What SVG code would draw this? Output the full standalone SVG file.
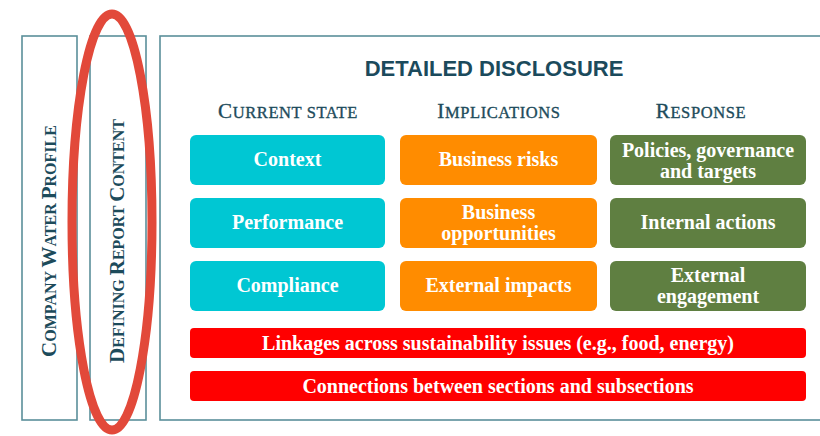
<svg xmlns="http://www.w3.org/2000/svg" width="820" height="436" viewBox="0 0 820 436">
<style>
.frame{fill:#ffffff;stroke:#5b8f9a;stroke-width:1.6}
.sc{font-family:"Liberation Serif",serif;fill:#1d4b5b;font-weight:bold}
.hd{font-family:"Liberation Serif",serif;fill:#1d4b5b;stroke:#1d4b5b;stroke-width:0.35;letter-spacing:0.6px}
.title{font-family:"Liberation Sans",Arial,sans-serif;font-weight:bold;font-size:22px;fill:#1b4a5c}
.bt{font-family:"Liberation Serif",serif;font-weight:bold;font-size:20px;fill:#ffffff;text-anchor:middle}
.cyan{fill:#00c7d3}
.orange{fill:#ff8c00}
.green{fill:#5f7f41}
.red{fill:#ff0000}
</style>
<rect x="0" y="0" width="820" height="436" fill="#ffffff"/>
<g id="company-water-profile">
<rect class="frame" x="22" y="36" width="55" height="384"/>
<text class="sc" transform="translate(56,241) rotate(-90)" text-anchor="middle"><tspan font-size="21">C</tspan><tspan font-size="16">OMPANY </tspan><tspan font-size="21">W</tspan><tspan font-size="16">ATER </tspan><tspan font-size="21">P</tspan><tspan font-size="16">ROFILE</tspan></text>
</g>
<g id="defining-report-content">
<rect class="frame" x="90" y="36" width="56" height="384"/>
<text class="sc" transform="translate(124,241) rotate(-90)" text-anchor="middle"><tspan font-size="21">D</tspan><tspan font-size="16">EFINING </tspan><tspan font-size="21">R</tspan><tspan font-size="16">EPORT </tspan><tspan font-size="21">C</tspan><tspan font-size="16">ONTENT</tspan></text>
</g>
<g id="detailed-disclosure">
<rect class="frame" x="160" y="36" width="680" height="384"/>
<text class="title" x="494" y="76" text-anchor="middle">DETAILED DISCLOSURE</text>
<text class="hd" x="288" y="118" text-anchor="middle"><tspan font-size="21">C</tspan><tspan font-size="16.5">URRENT STATE</tspan></text>
<text class="hd" x="499" y="118" text-anchor="middle"><tspan font-size="21">I</tspan><tspan font-size="16.5">MPLICATIONS</tspan></text>
<text class="hd" x="701" y="118" text-anchor="middle"><tspan font-size="21">R</tspan><tspan font-size="16.5">ESPONSE</tspan></text>
</g>
<g id="context"><rect class="cyan" x="190" y="135" width="195" height="50" rx="6"/><text class="bt" x="287.5" y="166">Context</text></g>
<g id="performance"><rect class="cyan" x="190" y="198" width="195" height="50" rx="6"/><text class="bt" x="287.5" y="229">Performance</text></g>
<g id="compliance"><rect class="cyan" x="190" y="261" width="195" height="50" rx="6"/><text class="bt" x="287.5" y="292">Compliance</text></g>
<g id="business-risks"><rect class="orange" x="400" y="135" width="197" height="50" rx="6"/><text class="bt" x="498.5" y="166">Business risks</text></g>
<g id="business-opportunities"><rect class="orange" x="400" y="198" width="197" height="50" rx="6"/><text class="bt" x="498.5" y="219">Business</text><text class="bt" x="498.5" y="240">opportunities</text></g>
<g id="external-impacts"><rect class="orange" x="400" y="261" width="197" height="50" rx="6"/><text class="bt" x="498.5" y="292">External impacts</text></g>
<g id="policies"><rect class="green" x="610" y="135" width="196" height="50" rx="6"/><text class="bt" x="708" y="157">Policies, governance</text><text class="bt" x="708" y="178">and targets</text></g>
<g id="internal-actions"><rect class="green" x="610" y="198" width="196" height="50" rx="6"/><text class="bt" x="708" y="229">Internal actions</text></g>
<g id="external-engagement"><rect class="green" x="610" y="261" width="196" height="50" rx="6"/><text class="bt" x="708" y="282">External</text><text class="bt" x="708" y="303">engagement</text></g>
<g id="linkages"><rect class="red" x="190" y="328" width="616" height="30" rx="4"/><text class="bt" x="498" y="350">Linkages across sustainability issues (e.g., food, energy)</text></g>
<g id="connections"><rect class="red" x="190" y="371" width="616" height="30" rx="4"/><text class="bt" x="498" y="393">Connections between sections and subsections</text></g>
<g id="connectors"></g>
<g id="highlight"><ellipse cx="112" cy="222" rx="40" ry="208" fill="none" stroke="#e2493a" stroke-width="9"/></g>
</svg>
